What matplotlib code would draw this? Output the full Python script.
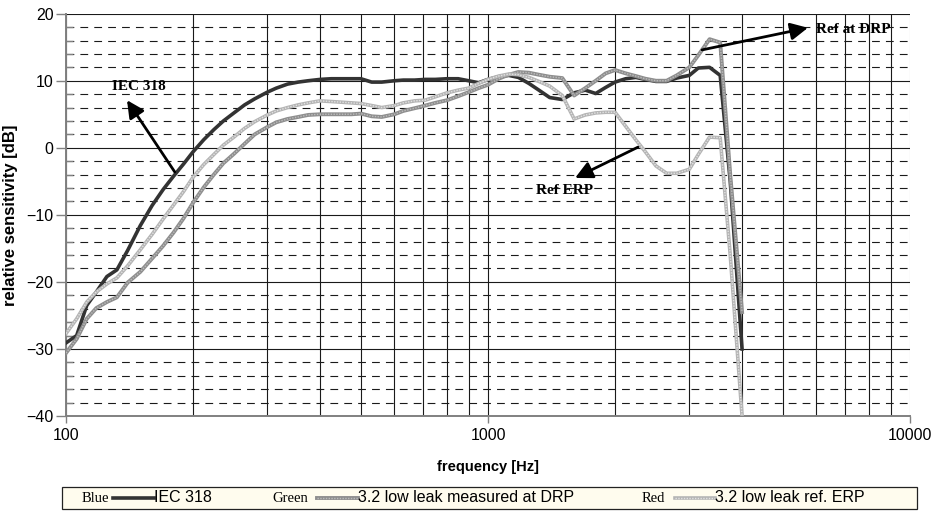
import matplotlib
matplotlib.use("Agg")
import matplotlib.pyplot as plt
from matplotlib.ticker import FixedLocator, MultipleLocator, FixedFormatter, NullFormatter
from matplotlib.lines import Line2D
from matplotlib.patches import Rectangle

# 1/12 octave nominal frequencies [Hz]
freq = [100, 106, 112, 118, 125, 132, 140, 150, 160, 170, 180, 190, 200, 212, 224, 236,
        250, 265, 280, 300, 315, 335, 355, 375, 400, 425, 450, 475, 500, 530, 560, 600,
        630, 670, 710, 750, 800, 850, 900, 950, 1000, 1060, 1120, 1180, 1250, 1320, 1400,
        1500, 1600, 1700, 1800, 1900, 2000, 2120, 2240, 2360, 2500, 2650, 2800, 3000,
        3150, 3350, 3550, 3750, 4000]

iec318 = [-29.1, -28.0, -23.5, -21.5, -19.2, -18.2, -15.3, -11.6, -8.6, -6.2, -4.2, -2.4,
          -0.6, 1.2, 2.7, 4.0, 5.2, 6.4, 7.3, 8.3, 8.9, 9.5, 9.8, 10.0, 10.2, 10.3, 10.3,
          10.3, 10.3, 9.8, 9.8, 10.0, 10.1, 10.1, 10.2, 10.2, 10.3, 10.3, 10.0, 9.7, 10.2,
          10.6, 10.8, 10.5, 9.6, 8.6, 7.5, 7.2, 8.2, 8.6, 8.1, 9.0, 9.8, 10.3, 10.5, 10.2,
          9.9, 9.9, 10.4, 10.8, 11.9, 12.0, 10.8, -5.0, -30.0]

drp = [-30.6, -28.5, -25.5, -23.9, -23.0, -22.3, -20.1, -18.5, -16.5, -14.6, -12.6, -10.5,
       -8.2, -5.9, -4.0, -2.3, -0.9, 0.6, 2.0, 3.1, 3.8, 4.3, 4.6, 4.9, 5.0, 5.0, 5.0,
       5.0, 5.1, 4.7, 4.6, 5.0, 5.5, 5.9, 6.3, 6.7, 7.1, 7.7, 8.3, 8.9, 9.4, 10.3, 10.9,
       11.3, 11.2, 10.9, 10.6, 10.4, 7.8, 8.9, 10.0, 11.1, 11.6, 11.1, 10.7, 10.3, 10.0,
       10.0, 10.8, 12.0, 13.8, 16.2, 15.7, -4.0, -24.5]

erp = [-27.7, -25.5, -23.0, -21.5, -20.3, -19.4, -17.6, -15.2, -12.9, -10.6, -8.5, -6.5,
       -4.4, -2.5, -1.0, 0.4, 1.6, 2.9, 3.9, 4.9, 5.5, 6.0, 6.4, 6.7, 7.0, 6.9, 6.8, 6.7,
       6.6, 6.3, 6.0, 6.3, 6.7, 7.0, 7.1, 7.6, 8.2, 8.6, 8.9, 9.6, 10.2, 10.7, 11.0, 10.9,
       10.5, 9.9, 9.2, 7.8, 4.3, 4.9, 5.2, 5.3, 5.3, 3.2, 1.2, -0.6, -2.7, -3.8, -3.8,
       -3.2, -1.0, 1.6, 1.5, -16.0, -40.0]

series_names = ["Blue", "Green", "Red"]
series_labels = ["IEC 318", "3.2 low leak measured at DRP", "3.2 low leak ref. ERP"]

# annotations: (text, text position, arrow tail, arrow tip) in data coords
notes = [
    ("IEC 318", (149, 9.2), (181, -3.6), (139.5, 7.1)),
    ("Ref at DRP", (7330, 17.7), (3215, 14.6), (5730, 17.9)),
    ("Ref ERP", (1514, -6.3), (2267, 0.1), (1608, -4.5)),
]

W, H = 935, 513
sans = ["Liberation Sans", "DejaVu Sans"]
serif = ["Liberation Serif", "DejaVu Serif"]
plt.rcParams["font.family"] = sans

fig = plt.figure(figsize=(W / 100, H / 100), dpi=100)
ax = fig.add_axes([66 / W, 1 - 416 / H, (910 - 66) / W, (416 - 13.7) / H])

ax.set_xscale("log")
ax.set_xlim(100, 10000)
ax.set_ylim(-40, 20)

ax.xaxis.set_major_locator(FixedLocator([100, 1000, 10000]))
ax.xaxis.set_major_formatter(FixedFormatter(["100", "1000", "10000"]))
ax.xaxis.set_minor_locator(FixedLocator([k * 10 ** d for d in (2, 3) for k in range(2, 10)]))
ax.xaxis.set_minor_formatter(NullFormatter())
ax.yaxis.set_major_locator(MultipleLocator(10))
ax.yaxis.set_minor_locator(MultipleLocator(2))

ax.grid(which="major", color="#1a1a1a", lw=0.8)
ax.xaxis.grid(which="minor", color="#1a1a1a", lw=0.8)
ax.yaxis.grid(which="minor", color="#1a1a1a", lw=0.8, linestyle=(0, (7, 5.5)))
ax.xaxis.get_gridlines()[-1].set_color("#c8c8c8")
ax.yaxis.get_gridlines()[-1].set_visible(False)

for s in ("top", "right"):
    ax.spines[s].set_visible(False)
for s in ("left", "bottom"):
    ax.spines[s].set_color("#808080")
    ax.spines[s].set_linewidth(1.4)

ax.tick_params(axis="y", which="major", direction="out", length=7, color="#808080", width=1,
               labelsize=11.5, pad=2)
ax.tick_params(axis="y", which="minor", direction="in", length=5, color="#808080", width=1)
ax.tick_params(axis="x", which="major", direction="out", length=5, color="#808080", width=1,
               labelsize=11.5, pad=4)
ax.tick_params(axis="x", which="minor", length=0)

# curves, drawn in legend order (red ends on top)
ax.plot(freq, iec318, color="#333333", lw=2.6, solid_joinstyle="round", zorder=3)
ax.plot(freq, drp, color="#8e8e8e", lw=2.8, zorder=4)
ax.plot(freq, drp, color="#bcbcbc", lw=1.0, linestyle=(0, (1, 1)), zorder=4)
ax.plot(freq, erp, color="#b4b4b4", lw=2.6, zorder=5)
ax.plot(freq, erp, color="#e2e2e2", lw=1.0, linestyle=(0, (1, 1)), zorder=5)

for txt, xy_txt, tail, tip in notes:
    ax.annotate("", xy=tip, xytext=tail,
                arrowprops=dict(arrowstyle="-|>", color="black", lw=2, mutation_scale=26,
                                shrinkA=0, shrinkB=0), zorder=6)
    ax.text(xy_txt[0], xy_txt[1], txt, ha="center", va="center", fontsize=11,
            fontweight="bold", family=serif, zorder=6)

ax.set_ylabel("relative sensitivity [dB]", fontsize=12, fontweight="bold", labelpad=6)
ax.set_xlabel("frequency [Hz]", fontsize=10.5, fontweight="bold", labelpad=12)

# legend box drawn in pixel positions
def fx(x):
    return x / W

def fy(y):
    return 1 - y / H

fig.patches.append(Rectangle((fx(62), fy(509)), fx(917) - fx(62), fy(487) - fy(509),
                             transform=fig.transFigure, facecolor="#fffcee",
                             edgecolor="#222222", lw=0.9))
leg_x = [(82, 113, 154), (272, 317, 358), (642, 675, 715)]
leg_y = 498
styles = [
    [dict(color="#333333", lw=2.6)],
    [dict(color="#8e8e8e", lw=2.8), dict(color="#bcbcbc", lw=1.0, linestyle=(0, (1, 1)))],
    [dict(color="#b4b4b4", lw=2.6), dict(color="#e2e2e2", lw=1.0, linestyle=(0, (1, 1)))],
]
for (xn, xl, xt), name, label, st in zip(leg_x, series_names, series_labels, styles):
    fig.text(fx(xn), fy(leg_y), name, ha="left", va="center", fontsize=10.5, family=serif)
    for kw in st:
        fig.lines.append(Line2D([fx(xl), fx(xt)], [fy(leg_y), fy(leg_y)],
                                transform=fig.transFigure, **kw))
    fig.text(fx(xt), fy(leg_y), label, ha="left", va="center", fontsize=11.5)

fig.savefig("out.png", dpi=100)
